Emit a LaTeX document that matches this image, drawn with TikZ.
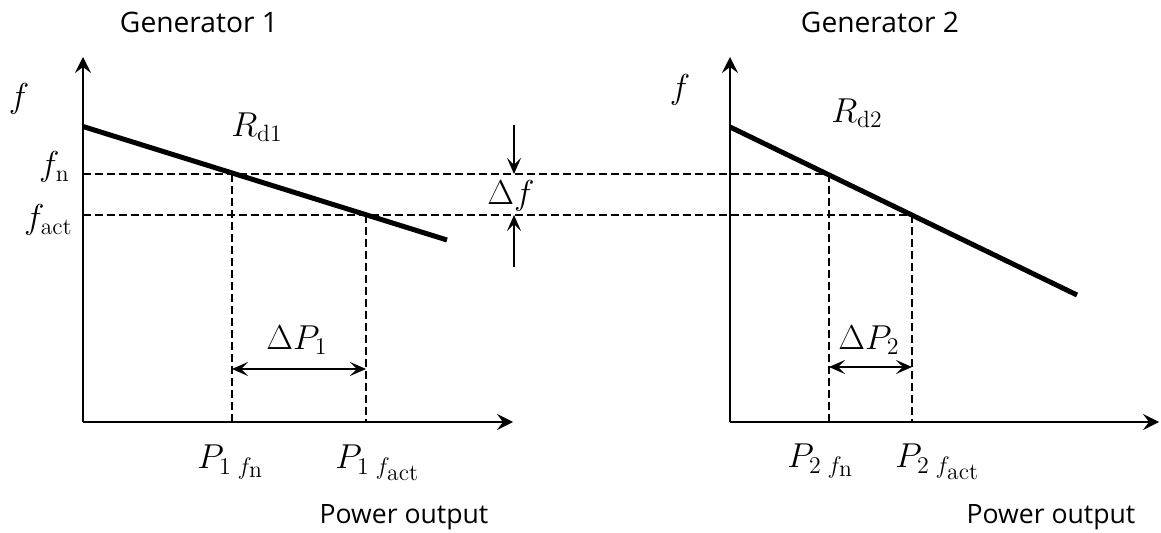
\documentclass[tikz,border=0pt]{standalone}
\usepackage{fontspec}
\newfontfamily\labfont{Open Sans}
\usetikzlibrary{arrows.meta}
\DeclareMathSizes{16}{16}{11.8}{9.5}
\begin{document}
\begin{tikzpicture}[x=0.5pt,y=-0.5pt,
  axis/.style={line width=1.1pt,-{Stealth[length=8pt,width=8pt,inset=3pt]}},
  droop/.style={line width=2.5pt},
  guide/.style={line width=0.8pt,dash pattern=on 4pt off 2pt},
  span/.style={line width=1pt,{Stealth[length=8pt,width=7pt,inset=3.5pt]}-{Stealth[length=8pt,width=7pt,inset=3.5pt]}},
  ptr/.style={line width=1pt,-{Stealth[length=8pt,width=7pt,inset=3.5pt]}},
  lab/.style={font=\labfont\fontsize{13.3}{16}\selectfont,inner sep=0pt},
  ttl/.style={font=\labfont\fontsize{14.1}{17}\selectfont,inner sep=0pt},
  mth/.style={font=\fontsize{16}{19}\selectfont,inner sep=0pt}
]
\useasboundingbox (0,0) rectangle (1161,533);
% Generator 1
\coordinate (o1) at (83,422);
\coordinate (yt1) at (83,57);
\coordinate (xt1) at (513,422);
\coordinate (d1s) at (83,126.5);
\coordinate (d1e) at (447,240);
\coordinate (a1) at (232,174);
\coordinate (b1) at (366,215);
\coordinate (a1x) at (232,422);
\coordinate (b1x) at (366,422);
\coordinate (a1m) at (232,369);
\coordinate (b1m) at (366,369);
\coordinate (hn) at (83,174);
\coordinate (ha) at (83,215);
% Generator 2
\coordinate (o2) at (730,422);
\coordinate (yt2) at (730,57);
\coordinate (xt2) at (1159,422);
\coordinate (d2s) at (730,127);
\coordinate (d2e) at (1077,295);
\coordinate (a2) at (829,174);
\coordinate (b2) at (912,215);
\coordinate (a2x) at (829,422);
\coordinate (b2x) at (912,422);
\coordinate (a2m) at (829,367);
\coordinate (b2m) at (912,367);
% delta f arrows
\coordinate (dft) at (514,125);
\coordinate (dfn) at (514,174);
\coordinate (dfb) at (514,267);
\coordinate (dfa) at (514,215);

% dashed guides
\draw[guide] (hn) -- (a2);
\draw[guide] (ha) -- (b2);
\draw[guide] (a1) -- (a1x);
\draw[guide] (b1) -- (b1x);
\draw[guide] (a2) -- (a2x);
\draw[guide] (b2) -- (b2x);

% axes
\draw[axis] (o1) -- (yt1);
\draw[axis] (o1) -- (xt1);
\draw[axis] (o2) -- (yt2);
\draw[axis] (o2) -- (xt2);

% droop lines
\draw[droop] (d1s) -- (d1e);
\draw[droop] (d2s) -- (d2e);

% spans
\draw[span] (a1m) -- (b1m);
\draw[span] (a2m) -- (b2m);
\draw[ptr] (dft) -- (dfn);
\draw[ptr] (dfb) -- (dfa);

% labels
\node[ttl] (g1) at (199,22) {Generator 1};
\node[ttl] (g2) at (880,22) {Generator 2};
\node[lab] (po1) at (404,517) {Power output};
\node[lab] (po2) at (1051,517) {Power output};
\node[mth] (f1) at (19,99) {$f$};
\node[mth] (f2) at (680,90) {$f$};
\node[mth,anchor=base east] (fnl) at (70,176) {$f_{\mathrm{n}}$};
\node[mth,anchor=base east] (fal) at (73,229) {$f_{\mathrm{act}}$};
\node[mth] (r1) at (257,127) {$R_{\mathrm{d1}}$};
\node[mth] (r2) at (857,113) {$R_{\mathrm{d2}}$};
\node[mth] (df) at (511,196) {$\Delta f$};
\node[mth] (dp1) at (297,340) {$\Delta P_1$};
\node[mth] (dp2) at (869,340) {$\Delta P_2$};
\node[mth,anchor=base west] (p1n) at (197,469) {$P_{1\;f_{\scriptstyle\mathrm{n}}}$};
\node[mth,anchor=base west] (p1a) at (335,469) {$P_{1\;f_{\scriptstyle\mathrm{act}}}$};
\node[mth,anchor=base west] (p2n) at (787,468) {$P_{2\;f_{\scriptstyle\mathrm{n}}}$};
\node[mth,anchor=base west] (p2a) at (895,468) {$P_{2\;f_{\scriptstyle\mathrm{act}}}$};
\end{tikzpicture}
\end{document}
